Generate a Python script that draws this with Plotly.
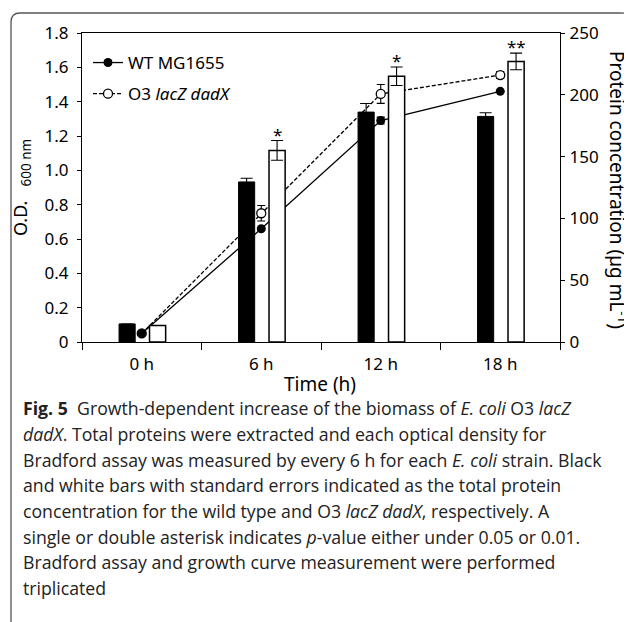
import plotly.graph_objects as go

# ---------------- data ----------------
categories = ["0 h", "6 h", "12 h", "18 h"]

wt_od = [0.05, 0.66, 1.29, 1.46]
wt_od_err = [0.0, 0.0, 0.02, 0.0]
o3_od = [0.05, 0.75, 1.445, 1.555]
o3_od_err = [0.0, 0.045, 0.055, 0.02]

wt_protein = [14.6, 129.5, 186, 182.5]
wt_protein_err = [0.0, 3, 7, 3]
o3_protein = [13.3, 155, 215, 227]
o3_protein_err = [0.0, 8, 7.5, 6.7]

signif = ["", "*", "*", "**"]

od_ticks = [0, 0.2, 0.4, 0.6, 0.8, 1.0, 1.2, 1.4, 1.6, 1.8]
od_ticktext = ["0", "0.2", "0.4", "0.6", "0.8", "1.0", "1.2", "1.4", "1.6", "1.8"]
prot_ticks = [0, 50, 100, 150, 200, 250]

caption_lines = [
    "<b>Fig. 5</b>  Growth-dependent increase of the biomass of <i>E. coli</i> O3 <i>lacZ</i>",
    "<i>dadX</i>. Total proteins were extracted and each optical density for",
    "Bradford assay was measured by every 6 h for each <i>E. coli</i> strain. Black",
    "and white bars with standard errors indicated as the total protein",
    "concentration for the wild type and O3 <i>lacZ dadX</i>, respectively. A",
    "single or double asterisk indicates <i>p</i>-value either under 0.05 or 0.01.",
    "Bradford assay and growth curve measurement were performed",
    "triplicated",
]

# ---------------- layout geometry ----------------
# the page body has an 8px margin, so the figure starts at (8, 8) in the window
OFF = 8
W, H = 624, 614
PL, PR, PT, PB = 82, 560, 33, 342          # plot-area edges in window pixels
ML, MR, MT, MB = PL - OFF, W - (PR - OFF), PT - OFF, H - (PB - OFF)
PW = PR - PL
PH = PB - PT


def px2x(px):
    return (px - PL) / PW


def px2y(py):
    return (PB - py) / PH


FONT = "Noto Sans"
CAP_FONT = "Open Sans"

fig = go.Figure()

# lines (left axis) - drawn first so the bars overlay them
fig.add_trace(go.Scatter(
    x=categories, y=o3_od, name="O3 <i>lacZ dadX</i>", legendrank=2,
    mode="lines+markers", legendgroup="o3",
    line=dict(color="black", width=1.3, dash="4px,2px"),
    marker=dict(symbol="circle", size=9, color="white", line=dict(color="black", width=1.3)),
    error_y=dict(type="data", array=o3_od_err, visible=True, color="black", thickness=1.1, width=4),
    yaxis="y",
))
fig.add_trace(go.Scatter(
    x=categories, y=wt_od, name="WT MG1655", legendrank=1,
    mode="lines+markers", legendgroup="wt",
    line=dict(color="black", width=1.3),
    marker=dict(symbol="circle", size=9, color="black"),
    error_y=dict(type="data", array=wt_od_err, visible=True, color="black", thickness=1.1, width=4),
    yaxis="y",
))

# bars (right axis)
fig.add_trace(go.Bar(
    x=categories, y=wt_protein, showlegend=False,
    marker=dict(color="black", line=dict(color="black", width=1)),
    width=0.135, offset=-0.19,
    error_y=dict(type="data", array=wt_protein_err, visible=True, color="black", thickness=1.1, width=6),
    yaxis="y2",
))
fig.add_trace(go.Bar(
    x=categories, y=o3_protein, showlegend=False,
    marker=dict(color="white", line=dict(color="black", width=1.5)),
    width=0.135, offset=0.065,
    error_y=dict(type="data", array=o3_protein_err, visible=True, color="black", thickness=1.1, width=6),
    yaxis="y2",
))

annotations = []
# significance stars above white bars
for i, s in enumerate(signif):
    if s:
        annotations.append(dict(
            x=i + 0.1325, y=o3_protein[i] + o3_protein_err[i], xref="x", yref="y2",
            text=s, showarrow=False, yanchor="bottom", yshift=-7,
            font=dict(family=FONT, size=17, color="black"),
        ))

# axis titles
annotations.append(dict(
    x=px2x(22), y=px2y(188), xref="paper", yref="paper",
    text="O.D.&nbsp;&nbsp;&nbsp;<sub><span style='font-size:13.5px'>600 nm</span></sub>",
    textangle=-90, showarrow=False,
    font=dict(family=FONT, size=18, color="black"), xanchor="center", yanchor="middle",
))
annotations.append(dict(
    x=px2x(618), y=px2y(190), xref="paper", yref="paper",
    text="Protein concentration (µg mL<sup>-1</sup>)", textangle=90, showarrow=False,
    font=dict(family=FONT, size=19, color="black"), xanchor="center", yanchor="middle",
))
annotations.append(dict(
    x=px2x(320), y=px2y(384), xref="paper", yref="paper",
    text="Time (h)", showarrow=False,
    font=dict(family=FONT, size=19, color="black"), xanchor="center", yanchor="middle",
))

# caption
cap_y = [408, 434, 460, 485.5, 511, 537, 562, 587.5]
for t, yy in zip(caption_lines, cap_y):
    annotations.append(dict(
        x=px2x(21), y=px2y(yy), xref="paper", yref="paper",
        text=t, showarrow=False, xanchor="left", yanchor="middle", align="left",
        font=dict(family=CAP_FONT, size=17.7, color="#222"),
    ))

# rounded frame (window pixel coordinates)
r = 9
x0, y0, x1, y1 = 11, 13, 630.5, 640
frame_line = dict(color="#555", width=1.3)
shapes = [
    dict(type="line", xref="paper", yref="paper", layer="above",
         x0=px2x(x0), y0=px2y(y1), x1=px2x(x0), y1=px2y(y0 + r), line=frame_line),
    dict(type="line", xref="paper", yref="paper", layer="above",
         x0=px2x(x0 + r), y0=px2y(y0), x1=px2x(x1 - r), y1=px2y(y0), line=frame_line),
    dict(type="line", xref="paper", yref="paper", layer="above",
         x0=px2x(x1), y0=px2y(y0 + r), x1=px2x(x1), y1=px2y(y1), line=frame_line),
    dict(type="path", xref="paper", yref="paper", layer="above", line=frame_line,
         path=f"M {px2x(x0):.5f},{px2y(y0 + r):.5f} Q {px2x(x0):.5f},{px2y(y0):.5f} {px2x(x0 + r):.5f},{px2y(y0):.5f}"),
    dict(type="path", xref="paper", yref="paper", layer="above", line=frame_line,
         path=f"M {px2x(x1 - r):.5f},{px2y(y0):.5f} Q {px2x(x1):.5f},{px2y(y0):.5f} {px2x(x1):.5f},{px2y(y0 + r):.5f}"),
]

fig.update_layout(
    width=W, height=H,
    margin=dict(l=ML, r=MR, t=MT, b=MB),
    paper_bgcolor="white", plot_bgcolor="white",
    font=dict(family=FONT, size=17, color="black"),
    showlegend=True,
    legend=dict(
        x=px2x(88), y=px2y(45), xanchor="left", yanchor="top",
        bgcolor="rgba(0,0,0,0)", font=dict(family=FONT, size=17),
        tracegroupgap=6, itemwidth=30,
    ),
    xaxis=dict(
        type="category", range=[-0.5, 3.5],
        showline=True, linecolor="black", linewidth=1.3, mirror=True,
        ticks="outside", ticklen=7, tickwidth=1.3, tickcolor="black",
        tickson="boundaries", showgrid=False, zeroline=False,
        tickfont=dict(family=FONT, size=17), ticklabelstandoff=6,
    ),
    yaxis=dict(
        range=[0, 1.8], tickvals=od_ticks, ticktext=od_ticktext,
        showline=True, linecolor="black", linewidth=1.3,
        ticks="outside", ticklen=4, tickwidth=1.3, tickcolor="black",
        showgrid=False, zeroline=False, tickfont=dict(family=FONT, size=17),
        ticklabelstandoff=5,
    ),
    yaxis2=dict(
        range=[0, 250], tickvals=prot_ticks, overlaying="y", side="right",
        showline=True, linecolor="black", linewidth=1.3,
        ticks="outside", ticklen=4, tickwidth=1.3, tickcolor="black",
        showgrid=False, zeroline=False, tickfont=dict(family=FONT, size=17),
        ticklabelstandoff=1,
    ),
    annotations=annotations,
    shapes=shapes,
)

fig.write_html("out.html")
